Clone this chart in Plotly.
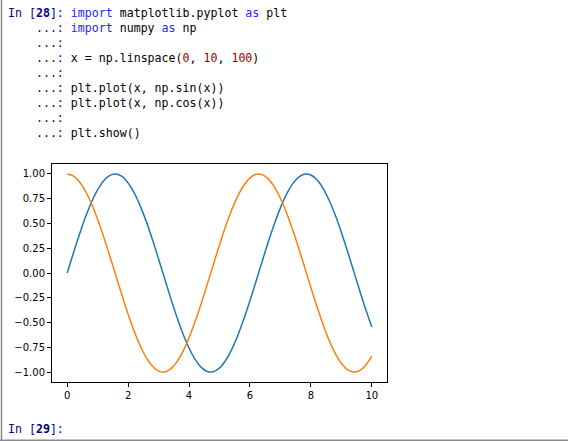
import plotly.graph_objects as go

# ---- data ----
x_vals = [0.0, 0.2, 0.4, 0.6, 0.8, 1.0, 1.2, 1.4, 1.6, 1.8, 2.0, 2.2, 2.4, 2.6, 2.8, 3.0,
          3.2, 3.4, 3.6, 3.8, 4.0, 4.2, 4.4, 4.6, 4.8, 5.0, 5.2, 5.4, 5.6, 5.8, 6.0, 6.2,
          6.4, 6.6, 6.8, 7.0, 7.2, 7.4, 7.6, 7.8, 8.0, 8.2, 8.4, 8.6, 8.8, 9.0, 9.2, 9.4,
          9.6, 9.8, 10.0]
sin_vals = [0.0, 0.199, 0.389, 0.565, 0.717, 0.841, 0.932, 0.985, 1.0, 0.974, 0.909, 0.808,
            0.675, 0.516, 0.335, 0.141, -0.058, -0.256, -0.443, -0.612, -0.757, -0.872,
            -0.952, -0.994, -0.996, -0.959, -0.883, -0.773, -0.631, -0.465, -0.279, -0.083,
            0.117, 0.312, 0.494, 0.657, 0.794, 0.899, 0.968, 0.999, 0.989, 0.941, 0.855,
            0.734, 0.585, 0.412, 0.223, 0.025, -0.174, -0.366, -0.544]
cos_vals = [1.0, 0.980, 0.921, 0.825, 0.697, 0.540, 0.362, 0.170, -0.029, -0.227, -0.416,
            -0.589, -0.737, -0.857, -0.942, -0.990, -0.998, -0.967, -0.897, -0.791, -0.654,
            -0.490, -0.307, -0.112, 0.087, 0.284, 0.469, 0.635, 0.776, 0.886, 0.960, 0.997,
            0.993, 0.950, 0.869, 0.754, 0.608, 0.439, 0.251, 0.054, -0.146, -0.339, -0.519,
            -0.679, -0.811, -0.911, -0.975, -1.0, -0.985, -0.930, -0.839]
y_ticks = [1.0, 0.75, 0.5, 0.25, 0.0, -0.25, -0.5, -0.75, -1.0]
x_ticks = [0, 2, 4, 6, 8, 10]

W, H = 568, 441
L, R, T, B = 52, 387, 164, 382

NAVY = "#000080"
KW = "#2424ff"
NUM = "#990000"
BLK = "#000000"

PROMPT = "    ...: "
code_lines = [
    [("In [", NAVY), ("<b>28</b>", NAVY), ("]: ", NAVY), ("import", KW),
     (" matplotlib.pyplot ", BLK), ("as", KW), (" plt", BLK)],
    [(PROMPT, NAVY), ("import", KW), (" numpy ", BLK), ("as", KW), (" np", BLK)],
    [(PROMPT, NAVY)],
    [(PROMPT, NAVY), ("x = np.linspace(", BLK), ("0", NUM), (", ", BLK), ("10", NUM),
     (", ", BLK), ("100", NUM), (")", BLK)],
    [(PROMPT, NAVY)],
    [(PROMPT, NAVY), ("plt.plot(x, np.sin(x))", BLK)],
    [(PROMPT, NAVY), ("plt.plot(x, np.cos(x))", BLK)],
    [(PROMPT, NAVY)],
    [(PROMPT, NAVY), ("plt.show()", BLK)],
]
last_prompt = [("In [", NAVY), ("<b>29</b>", NAVY), ("]: ", NAVY)]


def px_x(px):
    return (px - L) / (R - L)


def px_y(py):
    return (B - py) / (B - T)


def render(tokens):
    out = ""
    for txt, col in tokens:
        out += '<span style="color:%s">%s</span>' % (col, txt.replace(" ", "\u00a0"))
    return out


fig = go.Figure()
fig.add_trace(go.Scatter(x=x_vals, y=sin_vals, mode="lines",
                         line=dict(color="#1f77b4", width=1.5, shape="spline"),
                         hoverinfo="skip", showlegend=False))
fig.add_trace(go.Scatter(x=x_vals, y=cos_vals, mode="lines",
                         line=dict(color="#ff7f0e", width=1.5, shape="spline"),
                         hoverinfo="skip", showlegend=False))

annotations = []
mono = dict(family="DejaVu Sans Mono", size=11.6, color=BLK)
for i, toks in enumerate(code_lines):
    annotations.append(dict(xref="paper", yref="paper", x=px_x(6), y=px_y(12.7 + 15 * i),
                            xanchor="left", yanchor="middle", showarrow=False,
                            text=render(toks), font=mono, align="left"))
annotations.append(dict(xref="paper", yref="paper", x=px_x(6), y=px_y(429),
                        xanchor="left", yanchor="middle", showarrow=False,
                        text=render(last_prompt), font=mono, align="left"))

shapes = [
    dict(type="line", xref="paper", yref="paper", x0=px_x(1.5), x1=px_x(1.5),
         y0=px_y(0), y1=px_y(440), line=dict(color="#8a8a8a", width=1.5)),
    dict(type="line", xref="paper", yref="paper", x0=px_x(0), x1=px_x(W),
         y0=px_y(440.2), y1=px_y(440.2), line=dict(color="#8a8a8a", width=1.5)),
]

axis_common = dict(showgrid=False, zeroline=False, showline=True, mirror=True,
                   linecolor="#000000", linewidth=1, ticks="outside", ticklen=4,
                   tickwidth=1, tickcolor="#000000",
                   tickfont=dict(family="DejaVu Sans", size=10, color="#000000"))

fig.update_layout(
    width=W, height=H,
    margin=dict(l=L, r=W - R, t=T, b=H - B, pad=0),
    paper_bgcolor="white", plot_bgcolor="white",
    xaxis=dict(range=[-0.5, 10.5], tickvals=x_ticks, ticktext=[str(v) for v in x_ticks],
               **axis_common),
    yaxis=dict(range=[-1.0999, 1.1], tickvals=y_ticks, tickformat=".2f", **axis_common),
    annotations=annotations,
    shapes=shapes,
)

fig.write_html("out.html", config={"displayModeBar": False})
